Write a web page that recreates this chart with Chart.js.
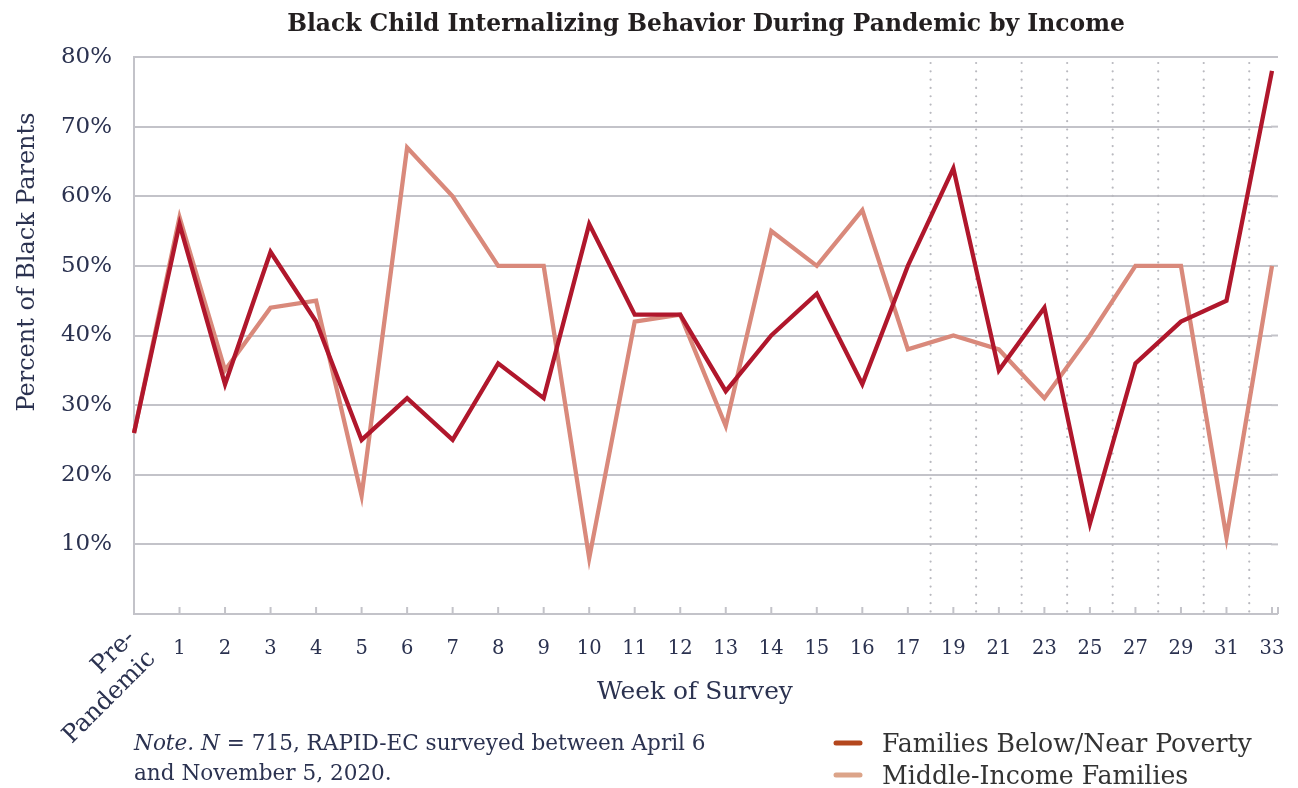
<!DOCTYPE html>
<html>
<head>
<meta charset="utf-8">
<script src="https://cdn.jsdelivr.net/npm/chart.js@4.4.1/dist/chart.umd.min.js"></script>
<style>
  html, body { margin: 0; padding: 0; background: #ffffff; }
  #wrap { position: relative; width: 1298px; height: 788px; }
  canvas { display: block; }
</style>
</head>
<body>
<div id="wrap"><canvas id="c" width="1298" height="788"></canvas></div>
<script>
// ---- Data ----
const categories = ['Pre-Pandemic', '1', '2', '3', '4', '5', '6', '7', '8', '9', '10', '11', '12', '13', '14', '15', '16', '17', '19', '21', '23', '25', '27', '29', '31', '33'];
const povertyValues = [26, 56, 33, 52, 42, 25, 31, 25, 36, 31, 56, 43, 43, 32, 40, 46, 33, 50, 64, 35, 44, 13, 36, 42, 45, 78];
const middleValues  = [26, 57, 35, 44, 45, 17, 67, 60, 50, 50, 8, 42, 43, 27, 55, 50, 58, 38, 40, 38, 31, 40, 50, 50, 11, 50];
const seriesNames = ['Families Below/Near Poverty', 'Middle-Income Families'];
const chartTitle = 'Black Child Internalizing Behavior During Pandemic by Income';
const yAxisTitle = 'Percent of Black Parents';
const xAxisTitle = 'Week of Survey';
const noteLine1 = ['Note.', ' ', 'N', ' = 715, RAPID-EC surveyed between April 6'];
const noteLine2 = 'and November 5, 2020.';
const dottedFromIndex = 17; // separators between biweekly survey weeks

const SERIF = '"DejaVu Serif", "Liberation Serif", serif';
const NAVY = '#2b3250';
const GRID = '#c3c3c9';
const LINE_DARK = '#b0172c';
const LINE_LIGHT = '#d9897b';
const LEG_DARK = '#b4471d';
const LEG_LIGHT = '#dca489';

// font size so that a text spans a given width
const mctx = document.createElement('canvas').getContext('2d');
function fitSize(text, style, target) {
  mctx.font = style + ' 100px ' + SERIF;
  return 100 * target / mctx.measureText(text).width;
}
const titleSize = fitSize(chartTitle, 'bold', 838);
const yTitleSize = fitSize(yAxisTitle, '', 299);
const xTitleSize = fitSize(xAxisTitle, '', 196);
const legendSize = fitSize(seriesNames[0], '', 370);
const noteSize = fitSize(noteLine1.join(''), '', 572);
const pandemicSize = fitSize('Pandemic', '', 120);
const yTickSize = fitSize('70%', '', 51);
const xTickSize = 19.5;

const decorPlugin = {
  id: 'decor',
  beforeDatasetsDraw(chart) {
    const { ctx, chartArea } = chart;
    const x = chart.scales.x, y = chart.scales.y;
    ctx.save();
    ctx.strokeStyle = GRID; ctx.lineWidth = 2;
    for (let v = 0; v <= 80; v += 10) {
      const py = y.getPixelForValue(v);
      ctx.beginPath(); ctx.moveTo(chartArea.right - 1, py); ctx.lineTo(chartArea.right + 6, py); ctx.stroke();
    }
    ctx.strokeStyle = '#b9b9bf'; ctx.lineWidth = 2.2; ctx.lineCap = 'round';
    ctx.setLineDash([0.01, 8.3]);
    for (let i = dottedFromIndex; i < categories.length - 1; i++) {
      const px = (x.getPixelForValue(i) + x.getPixelForValue(i + 1)) / 2;
      ctx.beginPath(); ctx.moveTo(px, chartArea.top + 6); ctx.lineTo(px, chartArea.bottom - 2); ctx.stroke();
    }
    ctx.setLineDash([]); ctx.lineCap = 'butt';
    ctx.strokeStyle = GRID; ctx.lineWidth = 2;
    for (let i = 1; i < categories.length; i++) {
      const px = x.getPixelForValue(i);
      ctx.beginPath(); ctx.moveTo(px, chartArea.bottom); ctx.lineTo(px, chartArea.bottom - 7); ctx.stroke();
    }
    ctx.beginPath(); ctx.moveTo(chartArea.right + 6, chartArea.bottom); ctx.lineTo(chartArea.right + 6, chartArea.bottom - 7); ctx.stroke();
    ctx.restore();
  },
  afterDraw(chart) {
    const { ctx } = chart;
    const x = chart.scales.x;
    ctx.save();
    ctx.fillStyle = '#231f20';
    ctx.font = 'bold ' + titleSize + 'px ' + SERIF;
    ctx.textAlign = 'center'; ctx.textBaseline = 'alphabetic';
    ctx.fillText(chartTitle, 706, 31);
    ctx.fillStyle = NAVY;
    ctx.font = yTitleSize + 'px ' + SERIF;
    ctx.translate(34, 262); ctx.rotate(-Math.PI / 2);
    ctx.textAlign = 'center';
    ctx.fillText(yAxisTitle, 0, 0);
    ctx.setTransform(1, 0, 0, 1, 0, 0);
    ctx.font = xTitleSize + 'px ' + SERIF;
    ctx.fillText(xAxisTitle, 695, 699);
    ctx.font = pandemicSize + 'px ' + SERIF;
    ctx.translate(x.getPixelForValue(0) + 2, 639); ctx.rotate(-Math.PI / 4);
    ctx.textAlign = 'right';
    ctx.fillText('Pre-', 0, 0);
    ctx.fillText('Pandemic', 0, 29);
    ctx.setTransform(1, 0, 0, 1, 0, 0);
    ctx.textAlign = 'left';
    let nx = 134;
    const styles = ['italic', '', 'italic', ''];
    noteLine1.forEach((t, i) => { ctx.font = styles[i] + ' ' + noteSize + 'px ' + SERIF; ctx.fillText(t, nx, 750); nx += ctx.measureText(t).width; });
    ctx.font = noteSize + 'px ' + SERIF;
    ctx.fillText(noteLine2, 134, 780);
    const legColors = [LEG_DARK, LEG_LIGHT];
    ctx.font = legendSize + 'px ' + SERIF;
    ctx.fillStyle = '#333333';
    chart.data.datasets.forEach((ds, i) => {
      const ly = 743 + i * 32;
      ctx.strokeStyle = legColors[i]; ctx.lineWidth = 5; ctx.lineCap = 'round';
      ctx.beginPath(); ctx.moveTo(836, ly); ctx.lineTo(860, ly); ctx.stroke();
      ctx.fillText(ds.label, 882, ly + 9);
    });
    ctx.restore();
  }
};

new Chart(document.getElementById('c'), {
  type: 'line',
  data: {
    labels: categories,
    datasets: [
      { label: seriesNames[0], data: povertyValues, borderColor: LINE_DARK, backgroundColor: LINE_DARK, borderWidth: 4.3, pointRadius: 0, tension: 0, fill: false },
      { label: seriesNames[1], data: middleValues, borderColor: LINE_LIGHT, backgroundColor: LINE_LIGHT, borderWidth: 4.3, pointRadius: 0, tension: 0, fill: false }
    ]
  },
  options: {
    responsive: false,
    animation: false,
    layout: { padding: { top: 57, right: 26, left: 0, bottom: 0 } },
    plugins: { legend: { display: false }, title: { display: false }, tooltip: { enabled: false } },
    scales: {
      x: {
        type: 'category',
        offset: false,
        afterFit(s) { s.height = 174; s.paddingLeft = 0; s.paddingRight = 0; },
        grid: { display: false, drawTicks: false },
        border: { display: true, color: GRID, width: 2 },
        ticks: {
          autoSkip: false, maxRotation: 0, minRotation: 0, padding: 23,
          color: NAVY, font: { family: SERIF, size: xTickSize },
          callback(v, i) { return i === 0 ? '' : categories[i]; }
        }
      },
      y: {
        min: 0, max: 80,
        afterFit(s) { s.width = 134; s.paddingTop = 0; s.paddingBottom = 0; },
        grid: { color: GRID, lineWidth: 2, drawTicks: false },
        border: { display: true, color: GRID, width: 2 },
        ticks: {
          stepSize: 10, padding: 22, color: NAVY, font: { family: SERIF, size: yTickSize },
          callback(v) { return v === 0 ? '' : v + '%'; }
        }
      }
    }
  },
  plugins: [decorPlugin]
});
</script>
</body>
</html>
